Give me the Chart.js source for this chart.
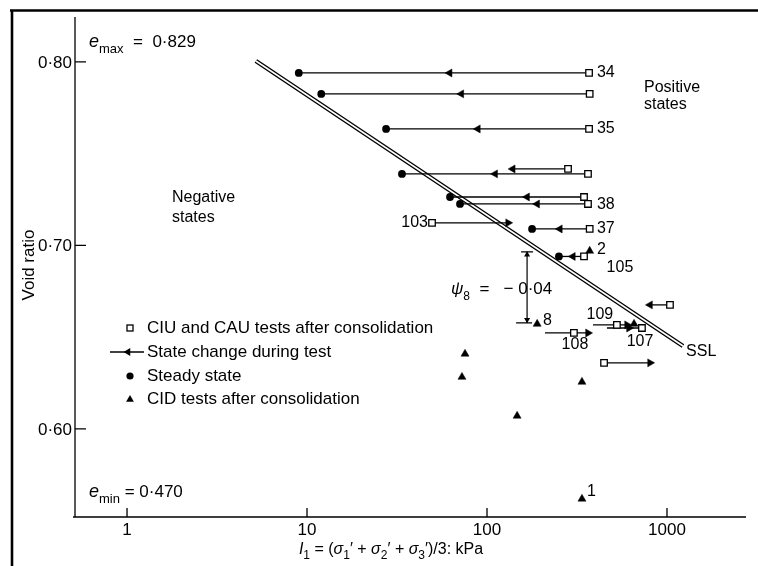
<!DOCTYPE html>
<html>
<head>
<meta charset="utf-8">
<script src="https://cdn.jsdelivr.net/npm/chart.js@4.4.0/dist/chart.umd.min.js"></script>
<style>
  html, body { margin: 0; padding: 0; background: #fff; }
  #wrap { width: 758px; height: 566px; }
</style>
</head>
<body>
<div id="wrap"><canvas id="chart" width="758" height="566"></canvas></div>
<script>
// state path of each undrained test: void ratio and the pressure range it covers (kPa)
const lineVoid = [0.794, 0.7826, 0.7635, 0.739, 0.7417, 0.7264, 0.7226, 0.7123, 0.709, 0.694, 0.6523, 0.6567, 0.655, 0.6676, 0.636];
const lineFrom = [9.0, 12.0, 27.5, 33.7, 136, 62.3, 70.8, 49.5, 178, 251, 210, 388, 464, 805, 447];
const lineTo   = [369, 372, 369, 364, 282, 346, 364, 131, 372, 346, 364, 600, 726, 1039, 805];

// CIU / CAU tests after consolidation (open squares)
const ciuP = [369, 372, 369, 364, 282, 346, 364, 49.5, 372, 346, 304, 527, 726, 1039, 447];
const ciuE = [0.794, 0.7826, 0.7635, 0.739, 0.7417, 0.7264, 0.7226, 0.7123, 0.709, 0.694, 0.6523, 0.6567, 0.655, 0.6676, 0.636];

// state change direction arrows
const arrP   = [62, 72, 89, 111, 139, 167, 190, 131, 254, 300, 364, 600, 615, 805, 805];
const arrE   = [0.794, 0.7826, 0.7635, 0.739, 0.7417, 0.7264, 0.7226, 0.7123, 0.709, 0.694, 0.6523, 0.6567, 0.655, 0.6676, 0.636];
const arrDir = ['L', 'L', 'L', 'L', 'L', 'L', 'L', 'R', 'L', 'L', 'R', 'R', 'R', 'L', 'R'];

// steady state (filled circles)
const ssP = [9.0, 12.0, 27.5, 33.7, 62.3, 70.8, 178, 251];
const ssE = [0.794, 0.7826, 0.7635, 0.739, 0.7264, 0.7226, 0.709, 0.694];

// CID tests after consolidation (filled triangles)
const cidP = [372, 190, 656, 75.5, 72.6, 337, 147, 337];
const cidE = [0.697, 0.6572, 0.6572, 0.6409, 0.6283, 0.6256, 0.6071, 0.5619];

// steady state line
const sslP = [5.2, 1227];
const sslE = [0.8005, 0.6452];

// test numbers
const tagText  = ['34', '35', '38', '37', '2', '105', '103', '109', '107', '108', '8', '1', 'SSL'];
const tagP     = [408, 408, 408, 408, 408, 548, 47, 424, 708, 308, 205, 359, 1276];
const tagE     = [0.794, 0.7635, 0.7221, 0.709, 0.6975, 0.6877, 0.7123, 0.6621, 0.6474, 0.6458, 0.6589, 0.5657, 0.642];
const tagAlign = ['left', 'left', 'left', 'left', 'left', 'center', 'right', 'center', 'center', 'center', 'left', 'left', 'left'];

// psi_8 annotation
const psiP = 167;
const psiTop = 0.6965;
const psiBottom = 0.6578;

const xTickVals = [1, 10, 100, 1000];
const xTickText = ['1', '10', '100', '1000'];
const yTickVals = [0.80, 0.70, 0.60];
const yTickText = ['0·80', '0·70', '0·60'];

const FF = '"Liberation Sans", Arial, Helvetica, sans-serif';
function font(size, style) {
  return (style ? style + ' ' : '') + size + 'px ' + FF;
}

function pts(xs, ys) {
  return xs.map((v, i) => ({ x: v, y: ys[i] }));
}

// draw a run of text pieces, some italic or lowered as subscripts
function rich(ctx, parts, x, y, align) {
  let total = 0;
  parts.forEach(p => {
    ctx.font = font(p.size, p.italic ? 'italic' : '');
    p.w = ctx.measureText(p.t).width;
    total += p.w;
  });
  let cx = align === 'center' ? x - total / 2 : x;
  ctx.textAlign = 'left';
  ctx.textBaseline = 'alphabetic';
  parts.forEach(p => {
    ctx.font = font(p.size, p.italic ? 'italic' : '');
    ctx.fillText(p.t, cx, y + (p.dy || 0));
    cx += p.w;
  });
}

function tri(ctx, x, y, r, rot) {
  ctx.beginPath();
  for (let k = 0; k < 3; k++) {
    const a = rot + k * 2 * Math.PI / 3;
    const px = x + Math.sin(a) * r;
    const py = y - Math.cos(a) * r;
    if (k === 0) ctx.moveTo(px, py); else ctx.lineTo(px, py);
  }
  ctx.closePath();
  ctx.fill();
}

const overlay = {
  id: 'overlay',
  beforeDraw(chart) {
    const ctx = chart.ctx;
    ctx.save();
    ctx.fillStyle = '#fff';
    ctx.fillRect(0, 0, chart.width, chart.height);
    ctx.restore();
  },
  afterDraw(chart) {
    const ctx = chart.ctx;
    const xs = chart.scales.x, ys = chart.scales.y;
    const area = chart.chartArea;
    ctx.save();
    ctx.fillStyle = '#000';
    ctx.strokeStyle = '#000';

    // outer frame
    ctx.lineWidth = 2.6;
    ctx.beginPath();
    ctx.moveTo(10, 10.5); ctx.lineTo(758, 10.5);
    ctx.moveTo(12, 10); ctx.lineTo(12, 566);
    ctx.stroke();

    // axes
    ctx.lineWidth = 1.3;
    ctx.beginPath();
    ctx.moveTo(area.left, area.top); ctx.lineTo(area.left, area.bottom);
    ctx.moveTo(area.left - 2, area.bottom); ctx.lineTo(area.right, area.bottom);
    ctx.stroke();

    // ticks pointing inward
    ctx.beginPath();
    yTickVals.forEach(v => {
      const py = ys.getPixelForValue(v);
      ctx.moveTo(area.left, py); ctx.lineTo(area.left + 11, py);
    });
    xTickVals.forEach(v => {
      const px = xs.getPixelForValue(v);
      ctx.moveTo(px, area.bottom); ctx.lineTo(px, area.bottom - 9);
    });
    ctx.stroke();

    ctx.font = font(17);
    ctx.textAlign = 'right';
    ctx.textBaseline = 'middle';
    yTickVals.forEach((v, i) => ctx.fillText(yTickText[i], area.left - 3, ys.getPixelForValue(v) + 1));
    ctx.textAlign = 'center';
    xTickVals.forEach((v, i) => ctx.fillText(xTickText[i], xs.getPixelForValue(v), area.bottom + 13));

    // axis titles
    ctx.save();
    ctx.translate(29, 265);
    ctx.rotate(-Math.PI / 2);
    ctx.font = font(17);
    ctx.textAlign = 'center';
    ctx.textBaseline = 'middle';
    ctx.fillText('Void ratio', 0, 0);
    ctx.restore();

    rich(ctx, [
      { t: 'I', size: 16, italic: true },
      { t: '1', size: 12, dy: 5 },
      { t: ' = (', size: 16 },
      { t: 'σ', size: 16, italic: true },
      { t: '1', size: 12, dy: 5 },
      { t: '′ + ', size: 16 },
      { t: 'σ', size: 16, italic: true },
      { t: '2', size: 12, dy: 5 },
      { t: '′ + ', size: 16 },
      { t: 'σ', size: 16, italic: true },
      { t: '3', size: 12, dy: 5 },
      { t: '′)/3: kPa', size: 16 }
    ], 391, 554, 'center');

    // e limits
    rich(ctx, [
      { t: 'e', size: 18, italic: true },
      { t: 'max', size: 13, dy: 6 },
      { t: '  =  0·829', size: 17 }
    ], 89, 47, 'left');
    rich(ctx, [
      { t: 'e', size: 18, italic: true },
      { t: 'min', size: 13, dy: 6 },
      { t: ' = 0·470', size: 17 }
    ], 89, 497, 'left');

    // region notes
    ctx.font = font(16);
    ctx.textAlign = 'left';
    ctx.textBaseline = 'middle';
    ctx.fillText('Positive', 644, 88);
    ctx.fillText('states', 644, 105);
    ctx.fillText('Negative', 172, 198);
    ctx.fillText('states', 172, 218);

    // test numbers
    ctx.font = font(16);
    tagText.forEach((t, i) => {
      ctx.textAlign = tagAlign[i];
      ctx.fillText(t, xs.getPixelForValue(tagP[i]), ys.getPixelForValue(tagE[i]));
    });

    // psi_8 dimension
    const qx = xs.getPixelForValue(psiP);
    const qt = ys.getPixelForValue(psiTop);
    const qb = ys.getPixelForValue(psiBottom);
    ctx.lineWidth = 1.2;
    ctx.beginPath();
    ctx.moveTo(qx, qt); ctx.lineTo(qx, qb);
    ctx.moveTo(qx - 6, qt); ctx.lineTo(qx + 6, qt);
    ctx.moveTo(qx - 11, qb); ctx.lineTo(qx + 5, qb);
    ctx.stroke();
    tri(ctx, qx, qt + 3, 3.5, 0);
    tri(ctx, qx, qb - 3, 3.5, Math.PI);
    rich(ctx, [
      { t: 'ψ', size: 17, italic: true },
      { t: '8', size: 12, dy: 6 },
      { t: '  =   − 0·04', size: 17 }
    ], 451, 294, 'left');

    // legend
    const lx = 130, tx = 147;
    const rows = [328, 352, 376, 399];
    ctx.lineWidth = 1.3;
    ctx.fillStyle = '#fff';
    ctx.fillRect(lx - 3, rows[0] - 3, 6, 6);
    ctx.strokeRect(lx - 3, rows[0] - 3, 6, 6);
    ctx.fillStyle = '#000';
    ctx.beginPath();
    ctx.moveTo(110, rows[1]); ctx.lineTo(144, rows[1]);
    ctx.stroke();
    tri(ctx, lx - 2, rows[1], 4.5, -Math.PI / 2);
    ctx.beginPath();
    ctx.arc(lx, rows[2], 3.6, 0, 2 * Math.PI);
    ctx.fill();
    tri(ctx, lx, rows[3] + 0.5, 4.5, 0);
    ctx.font = font(17);
    ctx.textAlign = 'left';
    ctx.textBaseline = 'middle';
    ctx.fillText('CIU and CAU tests after consolidation', tx, rows[0]);
    ctx.fillText('State change during test', tx, rows[1]);
    ctx.fillText('Steady state', tx, rows[2]);
    ctx.fillText('CID tests after consolidation', tx, rows[3]);

    ctx.restore();
  }
};

const datasets = [];

// steady state line: black stroke with a white core gives the double line
datasets.push({
  data: pts(sslP, sslE), showLine: true, borderColor: '#000', borderWidth: 4.4,
  pointRadius: 0, order: 20
});
datasets.push({
  data: pts(sslP, sslE), showLine: true, borderColor: '#fff', borderWidth: 1.6,
  pointRadius: 0, order: 19
});

lineVoid.forEach((e, i) => {
  datasets.push({
    data: [{ x: lineFrom[i], y: e }, { x: lineTo[i], y: e }],
    showLine: true, borderColor: '#000', borderWidth: 1.3,
    pointRadius: 0, order: 10
  });
});

datasets.push({
  data: pts(arrP, arrE), showLine: false, pointStyle: 'triangle',
  pointRotation: ctx => arrDir[ctx.dataIndex] === 'L' ? -90 : 90,
  pointRadius: 4.6, backgroundColor: '#000', borderColor: '#000', borderWidth: 0.5, order: 4
});
datasets.push({
  data: pts(cidP, cidE), showLine: false, pointStyle: 'triangle',
  pointRadius: 4.6, backgroundColor: '#000', borderColor: '#000', borderWidth: 0.5, order: 3
});
datasets.push({
  data: pts(ssP, ssE), showLine: false, pointStyle: 'circle',
  pointRadius: 3.9, backgroundColor: '#000', borderColor: '#000', borderWidth: 0, order: 2
});
datasets.push({
  data: pts(ciuP, ciuE), showLine: false, pointStyle: 'rect',
  pointRadius: 4.6, backgroundColor: '#fff', borderColor: '#000', borderWidth: 1.3, order: 1
});

new Chart(document.getElementById('chart'), {
  type: 'scatter',
  data: { datasets: datasets },
  options: {
    responsive: false,
    animation: false,
    layout: { padding: { left: 75, top: 17, right: 12, bottom: 49 } },
    plugins: { legend: { display: false }, tooltip: { enabled: false } },
    scales: {
      x: { type: 'logarithmic', min: 0.514, max: 2748, display: false },
      y: { type: 'linear', min: 0.552, max: 0.8245, display: false }
    }
  },
  plugins: [overlay]
});
</script>
</body>
</html>
